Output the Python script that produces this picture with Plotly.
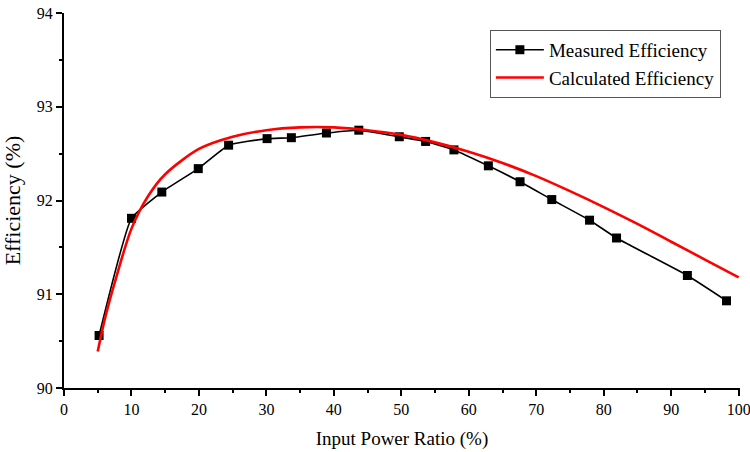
import plotly.graph_objects as go

# Measured efficiency
meas_x = [5.2, 10.0, 14.5, 19.9, 24.4, 30.1, 33.7, 38.9, 43.7, 49.7, 53.6, 57.8, 62.9, 67.6, 72.3, 77.9, 81.9, 92.4, 98.2]
meas_y = [90.56, 91.81, 92.09, 92.34, 92.59, 92.66, 92.67, 92.72, 92.75, 92.68, 92.63, 92.54, 92.37, 92.20, 92.01, 91.79, 91.60, 91.20, 90.93]

# Calculated efficiency
calc_x = [5, 6, 7.5, 10, 12.5, 15, 20, 25, 30, 35, 40, 45, 50, 55, 60, 65, 70, 75, 80, 85, 90, 95, 100]
calc_y = [90.39, 90.72, 91.12, 91.70, 92.05, 92.28, 92.55, 92.68, 92.75, 92.78, 92.78, 92.75, 92.70, 92.62, 92.52, 92.40, 92.26, 92.10, 91.93, 91.75, 91.56, 91.37, 91.18]

x_ticks = [0, 10, 20, 30, 40, 50, 60, 70, 80, 90, 100]
y_ticks = [90, 91, 92, 93, 94]

font = "Liberation Serif, Times New Roman, serif"

fig = go.Figure()
fig.add_trace(go.Scatter(
    x=meas_x, y=meas_y, mode="lines+markers", name="Measured Efficiency",
    line=dict(color="black", width=1.6, shape="spline", smoothing=0.4),
    marker=dict(symbol="square", size=9, color="black"),
))
fig.add_trace(go.Scatter(
    x=calc_x, y=calc_y, mode="lines", name="Calculated Efficiency",
    line=dict(color="#ff0000", width=2.6, shape="spline", smoothing=0.8),
))

fig.update_layout(
    width=750, height=452,
    margin=dict(l=64, r=10, t=13, b=64),
    paper_bgcolor="white", plot_bgcolor="white",
    font=dict(family=font, size=16, color="black"),
    showlegend=True,
    legend=dict(
        x=0.630, y=0.955, xanchor="left", yanchor="top",
        bgcolor="white", bordercolor="#555", borderwidth=1,
        font=dict(family=font, size=19, color="black"),
        tracegroupgap=0, itemwidth=48,
    ),
    xaxis=dict(
        range=[0, 100.2], tickvals=x_ticks, ticktext=[str(v) for v in x_ticks],
        automargin=False, ticklabeloverflow="allow",
        showgrid=False, zeroline=False, showline=True, linecolor="black", linewidth=2,
        ticks="outside", ticklen=6, tickwidth=2, tickcolor="black",
        minor=dict(dtick=5, ticks="outside", ticklen=3, tickwidth=2, tickcolor="black", showgrid=False),
        title=dict(text="Input Power Ratio (%)", font=dict(family=font, size=19), standoff=14),
        tickfont=dict(family=font, size=16),
    ),
    yaxis=dict(
        range=[90, 94], tickvals=y_ticks, ticktext=[str(v) for v in y_ticks],
        automargin=False,
        showgrid=False, zeroline=False, showline=True, linecolor="black", linewidth=2,
        ticks="outside", ticklen=6, tickwidth=2, tickcolor="black",
        minor=dict(dtick=0.5, ticks="outside", ticklen=3, tickwidth=2, tickcolor="black", showgrid=False),
        title=dict(text="Efficiency (%)", font=dict(family=font, size=22), standoff=12),
        tickfont=dict(family=font, size=16),
    ),
)

fig.write_html(
    "out.html",
    config={"displayModeBar": False},
    post_script="document.body.style.margin='0';document.body.style.padding='0';",
)
